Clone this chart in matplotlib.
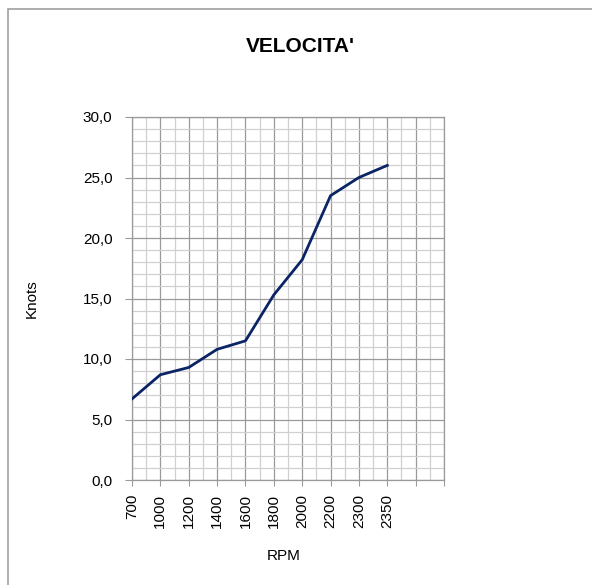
import numpy as np
import matplotlib
matplotlib.use('Agg')
from matplotlib import pyplot as plt
from matplotlib.patches import Rectangle
from matplotlib.ticker import MultipleLocator, FuncFormatter

plt.rcParams['font.family'] = ['Liberation Sans', 'DejaVu Sans']

RPM = ['700', '1000', '1200', '1400', '1600', '1800', '2000', '2200', '2300', '2350']
KNOTS = [6.7, 8.7, 9.3, 10.8, 11.5, 15.3, 18.2, 23.5, 25.0, 26.0]
N_SLOTS = 11  # two empty category slots after the last value

fig = plt.figure(figsize=(5.92, 5.85), dpi=100)
fig.patches.append(Rectangle((8 / 592, -0.01), 1.0, (585 - 9) / 585 + 0.01,
                             transform=fig.transFigure, fill=False,
                             edgecolor='#a0a0a0', linewidth=1.2))

ax = fig.add_axes([132 / 592, 105 / 585, 312 / 592, 363 / 585])
x = np.arange(len(RPM))
ax.plot(x, KNOTS, color='#0b2466', linewidth=2.0, zorder=3)

ax.set_xlim(0, N_SLOTS)
ax.set_ylim(0, 30)
ax.xaxis.set_minor_locator(MultipleLocator(0.5))
ax.yaxis.set_major_locator(MultipleLocator(5))
ax.yaxis.set_minor_locator(MultipleLocator(1))
ax.set_xticks(np.arange(N_SLOTS + 1))
ax.set_xticklabels(RPM + ['', ''], rotation=90, fontsize=11)
ax.yaxis.set_major_formatter(FuncFormatter(lambda v, p: ('%.1f' % v).replace('.', ',')))
for lab in ax.get_yticklabels():
    lab.set_fontsize(11)

ax.grid(which='major', color='#9a9a9a', linewidth=0.9)
ax.grid(which='minor', color='#d0d0d0', linewidth=0.9)
ax.set_axisbelow(True)
ax.tick_params(which='major', length=4, color='#9a9a9a', direction='out', pad=6)
ax.tick_params(which='minor', length=0)
ax.tick_params(axis='y', which='major', length=5, pad=9)
for s in ax.spines.values():
    s.set_color('#9a9a9a')
    s.set_linewidth(0.9)

ax.set_xlabel('RPM', fontsize=11)
ax.set_ylabel('Knots', fontsize=11)
ax.xaxis.set_label_coords(0.485, -0.19)
ax.yaxis.set_label_coords(-0.30, 0.5)
fig.text(300 / 592, 1 - 46 / 585, "VELOCITA'", ha='center', va='center',
         fontsize=15, fontweight='bold')

plt.savefig('out.png', dpi=100)
plt.close()
